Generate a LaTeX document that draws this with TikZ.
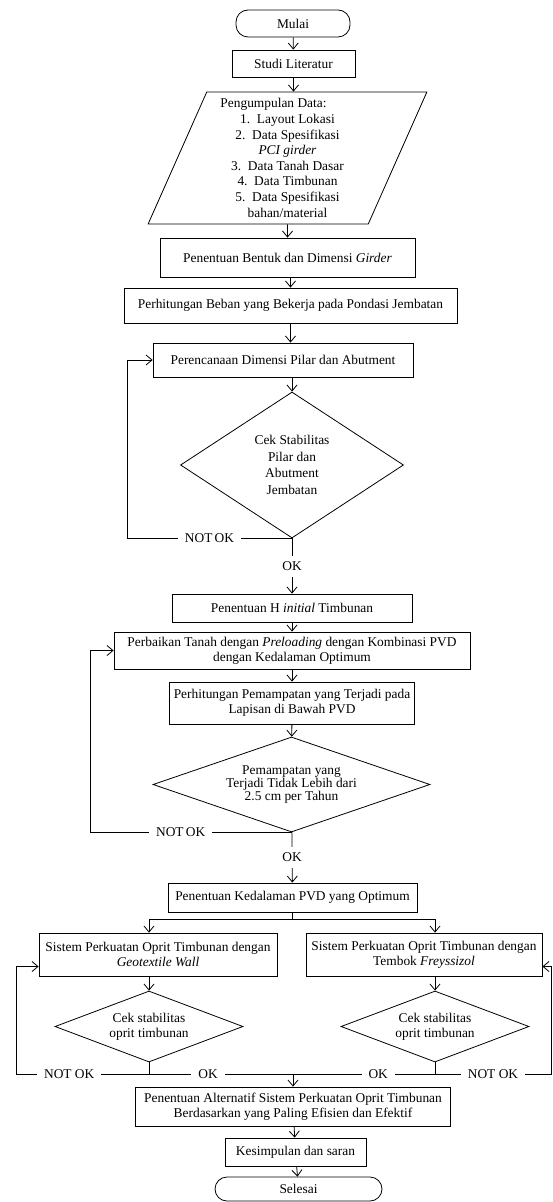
\documentclass[tikz,border=0pt]{standalone}
\usepackage{fontspec}
\setmainfont{Liberation Serif}
\usetikzlibrary{shapes.geometric, arrows.meta, positioning}
\tikzset{
    ->, % every connector is directed
    >={Straight Barb[length=3pt,width=5pt]}, % thin open arrow heads
    line width=0.6pt,
    x=0.5pt, y=-0.5pt, % one unit is one pixel of the page, y runs downwards
    every node/.style={font=\fontsize{6.7}{7.3}\selectfont},
    process/.style={draw, rectangle, align=center, inner sep=2pt}, % plain step
    terminal/.style={draw, rectangle, rounded corners=6pt, align=center}, % start / end
    iobox/.style={draw, trapezium, trapezium left angle=67.7, trapezium right angle=112.3,
        trapezium stretches=true, align=center, inner sep=0pt}, % data input
    decision/.style={draw, diamond, align=center, inner sep=0pt},
    lbl/.style={fill=white, inner xsep=3.5pt, inner ysep=3pt}, % OK / NOT OK on a line
}

\begin{document}
\begin{tikzpicture}
    \useasboundingbox (0,0) rectangle (552,1202);

    \node[terminal, minimum width=57pt, minimum height=13.5pt] (mulai) at (293,23.5) {Mulai};
    \node[process, minimum width=61.5pt, minimum height=13.5pt] (studi) at (293.5,63.5) {Studi Literatur};
    \node[iobox, minimum width=139.5pt, minimum height=66pt, font=\fontsize{6.7}{7.8}\selectfont] (data) at (287.5,158)
        {Pengumpulan Data:\hspace*{14pt}\\
         1.\ \ Layout Lokasi\\
         2.\ \ Data Spesifikasi\\
         \textit{PCI girder}\\
         3.\ \ Data Tanah Dasar\\
         4.\ \ Data Timbunan\\
         5.\ \ Data Spesifikasi\\
         bahan/material};
    \node[process, minimum width=127.5pt, minimum height=19.5pt] (bentuk) at (287.5,257.5) {Penentuan Bentuk dan Dimensi \textit{Girder}};
    \node[process, minimum width=166.5pt, minimum height=17.5pt] (beban) at (290.5,305.5) {Perhitungan Beban yang Bekerja pada Pondasi Jembatan};
    \node[process, minimum width=130pt, minimum height=17pt] (pilar) at (283,360) {Perencanaan Dimensi Pilar dan Abutment};
    \node[decision, minimum width=111.5pt, minimum height=73pt, aspect=1.53, font=\fontsize{6.7}{8.35}\selectfont] (cek1) at (292,465)
        {Cek Stabilitas\\Pilar dan\\Abutment\\Jembatan};

    \node[process, minimum width=120pt, minimum height=14pt] (hinit) at (292,608) {Penentuan H \textit{initial} Timbunan};
    \node[process, minimum width=178pt, minimum height=18.5pt] (perbaikan) at (292,650.5)
        {Perbaikan Tanah dengan \textit{Preloading} dengan Kombinasi PVD\\dengan Kedalaman Optimum};
    \node[process, minimum width=120pt, minimum height=21pt] (pemampatan) at (292,703)
        {Perhitungan Pemampatan yang Terjadi pada\\Lapisan di Bawah PVD};
    \node[decision, minimum width=138.5pt, minimum height=47.5pt, aspect=2.92, font=\fontsize{6.7}{6.6}\selectfont] (cek2) at (291.5,784.5)
        {Pemampatan yang\\Terjadi Tidak Lebih dari\\2.5 cm per Tahun};

    \node[process, minimum width=124.5pt, minimum height=14.5pt] (kedalaman) at (292.5,897.5) {Penentuan Kedalaman PVD yang Optimum};
    \node[process, minimum width=119pt, minimum height=21.5pt] (geo) at (158,954.5)
        {Sistem Perkuatan Oprit Timbunan dengan\\\textit{Geotextile Wall}};
    \node[process, minimum width=118pt, minimum height=21.5pt] (frey) at (424,954.5)
        {Sistem Perkuatan Oprit Timbunan dengan\\Tembok \textit{Freyssizol}};
    \node[decision, minimum width=94pt, minimum height=35.5pt, aspect=2.65, font=\fontsize{6.7}{7.5}\selectfont] (cek3) at (149,1026.5)
        {Cek stabilitas\\oprit timbunan};
    \node[decision, minimum width=94pt, minimum height=35.5pt, aspect=2.65, font=\fontsize{6.7}{7.5}\selectfont] (cek4) at (435,1026.5)
        {Cek stabilitas\\oprit timbunan};

    \node[process, minimum width=157.5pt, minimum height=19.5pt] (alt) at (293,1106.5)
        {Penentuan Alternatif Sistem Perkuatan Oprit Timbunan\\Berdasarkan yang Paling Efisien dan Efektif};
    \node[process, minimum width=70.5pt, minimum height=14pt] (kesimpulan) at (295.5,1152) {Kesimpulan dan saran};
    \node[terminal, minimum width=83.5pt, minimum height=12pt] (selesai) at (298.5,1189) {Selesai};

    \coordinate (bus) at (293,1074);
    \coordinate (lloop) at (16,1074);
    \coordinate (rloop) at (551,1074);

    % main column
    \draw (mulai) -- (studi);
    \draw (studi.south) -- (studi.south |- data.north);
    \draw (data) -- (bentuk);
    \draw (beban.north |- bentuk.south) -- (beban.north);
    \draw (beban.south) -- (beban.south |- pilar.north);
    \draw (cek1.north |- pilar.south) -- (cek1.north);
    \draw (cek1) -- node[lbl]{OK} (hinit);
    \draw (cek1.south) -- node[lbl]{NOT\,OK} ++(-165,0) |- (pilar.west);

    \draw (hinit) -- (perbaikan);
    \draw (perbaikan) -- (pemampatan);
    \draw (pemampatan) -- (cek2);
    \draw (cek2) -- node[lbl]{OK} (kedalaman);
    \draw (cek2.south) -- node[lbl, pos=0.55]{NOT\,OK} ++(-201.5,0) |- (perbaikan.west);

    % two reinforcement options
    \draw[-] (kedalaman.south) -- ++(0,7) coordinate (split);
    \draw (split) -| (cek3.north |- geo.north);
    \draw (split) -| (cek4.north |- frey.north);
    \draw (geo.south -| cek3.north) -- (cek3.north);
    \draw (frey.south -| cek4.north) -- (cek4.north);

    \draw[-] (cek3.south) |- node[lbl, pos=0.705]{OK} (bus);
    \draw[-] (cek4.south) |- node[lbl, pos=0.70]{OK} (bus);
    \draw (cek3.south) |- node[lbl, pos=0.8]{NOT OK} (lloop) |- ([yshift=-6pt]geo.west);
    \draw (cek4.south) |- node[lbl, pos=0.75]{NOT OK} (rloop) |- ([yshift=-6pt]frey.east);

    \draw (bus) -- (alt);
    \draw (alt) -- (kesimpulan);
    \draw (kesimpulan) -- (selesai);
\end{tikzpicture}
\end{document}
